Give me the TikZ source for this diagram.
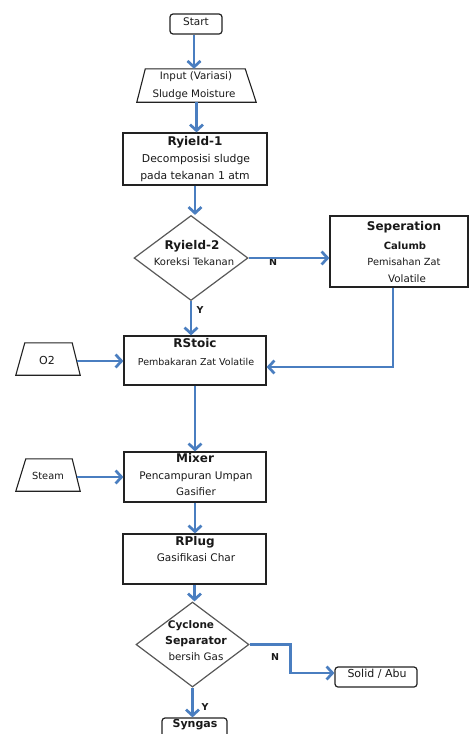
\documentclass[tikz,border=0pt]{standalone}
\usepackage{fontspec}
\setmainfont{DejaVu Sans}
\usetikzlibrary{shapes.geometric,arrows.meta}
\definecolor{flowblue}{HTML}{4A7EC0}
\definecolor{edge}{HTML}{222222}
\tikzset{
  box/.style={draw=edge, line width=1.2pt, inner sep=0pt},
  rbox/.style={box, rounded corners=3pt},
  dec/.style={diamond, draw=black!65, line width=1.2pt, inner sep=1pt},
  iobase/.style={draw=none, inner sep=0pt},
  ioline/.style={draw=edge, line width=1.1pt, line join=miter},
  arr/.style={draw=flowblue, line width=2.7pt, -{Straight Barb[length=6pt,width=13pt]}},
  lbl/.style={inner sep=0pt, text height=7.5pt, text depth=2pt, text=black!90},
  ttl/.style={lbl, font=\fontsize{12}{13}\selectfont\bfseries},
  bod/.style={lbl, font=\fontsize{10.3}{12}\selectfont},
  yn/.style={lbl, font=\fontsize{9.5}{11}\selectfont\bfseries}
}
\begin{document}
\begin{tikzpicture}[x=1pt,y=-1pt]
\useasboundingbox (0,0) rectangle (471,734);
\fill[white] (0,0) rectangle (471,734);

% shapes
\node[rbox, minimum width=52pt, minimum height=20pt] (start) at (196,24) {};
\node[iobase, minimum width=119pt, minimum height=33pt] (inp) at (196.5,85.5) {};
\draw[ioline] (inp.south west) -- ([xshift=8.5pt]inp.north west) -- ([xshift=-11pt]inp.north east) -- (inp.south east) -- cycle;
\node[box, minimum width=144pt, minimum height=52pt] (r1) at (195,159) {};
\node[dec, minimum width=114pt, minimum height=85pt] (r2) at (191,258) {};
\node[box, minimum width=138pt, minimum height=71pt] (sep) at (399,251.5) {};
\node[box, minimum width=142pt, minimum height=49pt] (rs) at (195,360.5) {};
\node[iobase, minimum width=64pt, minimum height=32pt] (o2) at (48,359) {};
\draw[ioline] (o2.south west) -- ([xshift=9pt]o2.north west) -- ([xshift=-8pt]o2.north east) -- (o2.south east) -- cycle;
\node[box, minimum width=142pt, minimum height=50pt] (mix) at (195,477) {};
\node[iobase, minimum width=64pt, minimum height=32pt] (steam) at (48,475) {};
\draw[ioline] (steam.south west) -- ([xshift=10pt]steam.north west) -- ([xshift=-8pt]steam.north east) -- (steam.south east) -- cycle;
\node[box, minimum width=143pt, minimum height=50pt] (rp) at (194.5,559) {};
\node[dec, minimum width=113pt, minimum height=85pt] (cy) at (192.5,644.5) {};
\node[rbox, minimum width=82pt, minimum height=20pt] (solid) at (376,677) {};
\node[rbox, minimum width=65pt, minimum height=20pt] (syn) at (194.5,728) {};

% texts
\node[bod, font=\fontsize{10.5}{12}\selectfont] (tstart) at (196,23) {Start};
\node[bod] (tinp1) at (196,77) {Input (Variasi)};
\node[bod] (tinp2) at (194,95) {Sludge Moisture};
\node[ttl] (tr1a) at (195,143) {Ryield-1};
\node[bod, font=\fontsize{10.8}{12}\selectfont] (tr1b) at (196,160) {Decomposisi sludge};
\node[bod, font=\fontsize{10.8}{12}\selectfont] (tr1c) at (195,177) {pada tekanan 1 atm};
\node[ttl] (tr2a) at (192,247) {Ryield-2};
\node[bod, font=\fontsize{10}{12}\selectfont] (tr2b) at (194,263) {Koreksi Tekanan};
\node[ttl] (tsepa) at (404,228) {Seperation};
\node[ttl, font=\fontsize{10}{12}\selectfont\bfseries] (tsepb) at (405,247) {Calumb};
\node[bod, font=\fontsize{9.8}{12}\selectfont] (tsepc) at (404,263) {Pemisahan Zat};
\node[bod] (tsepd) at (407,280) {Volatile};
\node[ttl] (trsa) at (195,345) {RStoic};
\node[bod, font=\fontsize{9.5}{12}\selectfont] (trsb) at (196,363) {Pembakaran Zat Volatile};
\node[bod, font=\fontsize{11}{12}\selectfont] (to2) at (47,362) {O2};
\node[ttl] (tmixa) at (195,460) {Mixer};
\node[bod, font=\fontsize{10.5}{12}\selectfont] (tmixb) at (196,477) {Pencampuran Umpan};
\node[bod] (tmixc) at (196,493) {Gasifier};
\node[bod, font=\fontsize{9.8}{12}\selectfont] (tsteam) at (48,477) {Steam};
\node[ttl] (trpa) at (195,543) {RPlug};
\node[bod, font=\fontsize{10.5}{12}\selectfont] (trpb) at (196,559) {Gasifikasi Char};
\node[ttl, font=\fontsize{10.5}{12}\selectfont\bfseries] (tcya) at (191,626) {Cyclone};
\node[ttl, font=\fontsize{11}{12}\selectfont\bfseries] (tcyb) at (196,642) {Separator};
\node[bod] (tcyc) at (196,658) {bersih Gas};
\node[bod, font=\fontsize{11}{12}\selectfont] (tsolid) at (377,675) {Solid / Abu};
\node[ttl, font=\fontsize{11}{12}\selectfont\bfseries] (tsyn) at (195,725) {Syngas};
\node[yn] (n1) at (273,263) {N};
\node[yn] (y1) at (200,311) {Y};
\node[yn] (n2) at (275,658) {N};
\node[yn] (y2) at (205,708) {Y};

% connectors
\draw[arr] ([xshift=-2pt]start.south) -- ([xshift=-2pt]start.south |- inp.north);
\draw[arr] (inp.south) -- (inp.south |- r1.north);
\draw[arr] (r1.south) -- (r1.south |- r2.north);
\draw[arr] (r2.east) -- (r2.east -| sep.west);
\draw[arr] (r2.south) -- (r2.south |- rs.north);
\draw[arr] ([xshift=-6pt]sep.south) |- ([yshift=-6.5pt]rs.east);
\draw[arr] ([xshift=-3pt,yshift=-2pt]o2.east) -- ([yshift=-2pt]o2.east -| rs.west);
\draw[arr] (rs.south) -- (rs.south |- mix.north);
\draw[arr] ([xshift=-3pt,yshift=-2pt]steam.east) -- ([yshift=-2pt]steam.east -| mix.west);
\draw[arr] (mix.south) -- (mix.south |- rp.north);
\draw[arr] (rp.south) -- (rp.south |- cy.north);
\draw[arr] (cy.east) -- ++(41,0) |- ([yshift=4pt]solid.west);
\draw[arr] (cy.south) -- (cy.south |- syn.north);
\end{tikzpicture}
\end{document}
